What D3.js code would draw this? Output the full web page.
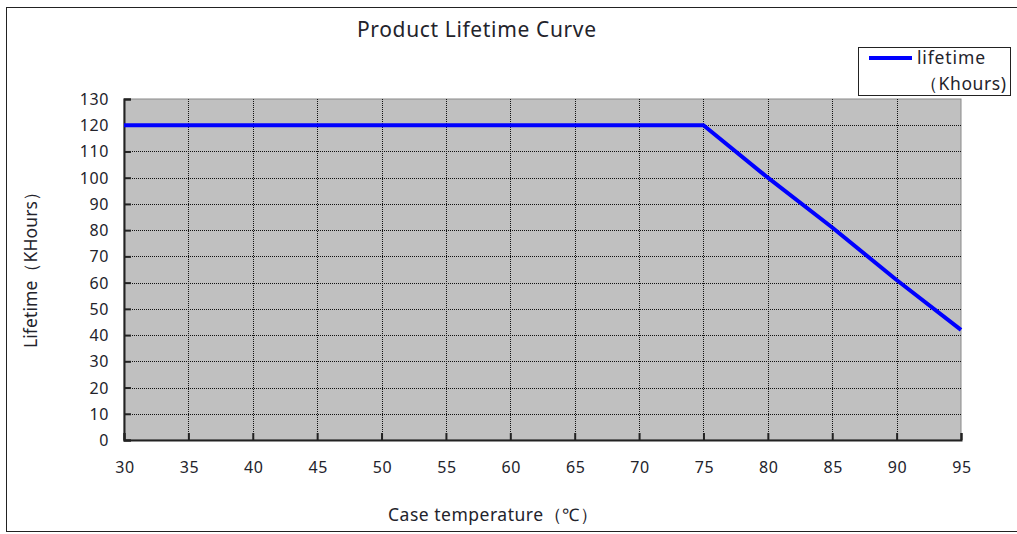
<!DOCTYPE html>
<html>
<head>
<meta charset="utf-8">
<script src="https://cdn.jsdelivr.net/npm/d3@7"></script>
<style>
  body { margin: 0; background: #fff; }
  svg { font-family: "Noto Sans", "Open Sans", sans-serif; }
</style>
</head>
<body>
<script>
// data
const temps = [30, 35, 40, 45, 50, 55, 60, 65, 70, 75, 80, 85, 90, 95];
const lifetime = [120, 120, 120, 120, 120, 120, 120, 120, 120, 120, 100, 81, 61, 42];
const yTicks = [0, 10, 20, 30, 40, 50, 60, 70, 80, 90, 100, 110, 120, 130];

const width = 1017, height = 534;
const margin = { left: 124, right: 55, top: 99, bottom: 94 };
const textColor = '#23232b';

const svg = d3.select('body').append('svg')
  .attr('width', width)
  .attr('height', height);

// outer frame
svg.append('rect')
  .attr('x', 6.5).attr('y', 7.5)
  .attr('width', width - 4).attr('height', 524)
  .attr('fill', 'none').attr('stroke', '#222').attr('stroke-width', 1);

const x = d3.scaleLinear().domain([30, 95]).range([margin.left, width - margin.right - 1]);
const y = d3.scaleLinear().domain([0, 130]).range([height - margin.bottom, margin.top]);

// plot area
svg.append('rect')
  .attr('x', x(30)).attr('y', y(130))
  .attr('width', x(95) - x(30)).attr('height', y(0) - y(130))
  .attr('fill', '#c0c0c0')
  .attr('stroke', '#8a8a8a').attr('stroke-width', 1);

// dotted grid
const grid = svg.append('g').attr('stroke', '#111').attr('stroke-width', 1).attr('stroke-dasharray', '1,1');
grid.selectAll('line.v').data(temps.filter(t => t > 30 && t < 95)).join('line')
  .attr('class', 'v')
  .attr('x1', d => Math.round(x(d)) + 0.5).attr('x2', d => Math.round(x(d)) + 0.5)
  .attr('y1', y(130)).attr('y2', y(0));
grid.selectAll('line.h').data(yTicks.filter(t => t > 0 && t < 130)).join('line')
  .attr('class', 'h')
  .attr('y1', d => Math.round(y(d)) + 0.5).attr('y2', d => Math.round(y(d)) + 0.5)
  .attr('x1', x(30)).attr('x2', x(95));

// axes with inward ticks
const yAxis = svg.append('g')
  .attr('transform', `translate(${x(30)},0)`)
  .call(d3.axisRight(y).tickValues(yTicks).tickSize(7).tickFormat(''));
yAxis.select('.domain').attr('stroke', '#222').attr('stroke-width', 2);
yAxis.selectAll('.tick line').attr('stroke', '#222').attr('stroke-width', 2);

const xAxis = svg.append('g')
  .attr('transform', `translate(0,${y(0)})`)
  .call(d3.axisTop(x).tickValues(temps).tickSize(7).tickFormat(''));
xAxis.select('.domain').attr('stroke', '#222').attr('stroke-width', 2);
xAxis.selectAll('.tick line').attr('stroke', '#222').attr('stroke-width', 2);

// tick labels
svg.append('g').selectAll('text').data(yTicks).join('text')
  .attr('x', 109).attr('y', d => y(d) + 6)
  .attr('text-anchor', 'end')
  .attr('font-size', 16).attr('letter-spacing', 0.6).attr('fill', textColor)
  .text(d => d);
svg.append('g').selectAll('text').data(temps).join('text')
  .attr('x', d => x(d) + 1).attr('y', 473)
  .attr('text-anchor', 'middle')
  .attr('font-size', 16).attr('letter-spacing', 0.6).attr('fill', textColor)
  .text(d => d);

// the curve
const line = d3.line().x((d, i) => x(temps[i])).y(d => y(d));
svg.append('path')
  .datum(lifetime)
  .attr('d', line)
  .attr('fill', 'none')
  .attr('stroke', '#0000ff')
  .attr('stroke-width', 4)
  .attr('stroke-linejoin', 'round');

// titles
svg.append('text').attr('x', 357).attr('y', 37)
  .attr('font-size', 21).attr('fill', textColor)
  .attr('textLength', 239).attr('lengthAdjust', 'spacing')
  .text('Product Lifetime Curve');
svg.append('text').attr('x', 388).attr('y', 521)
  .attr('font-size', 17.5).attr('fill', textColor)
  .attr('textLength', 210).attr('lengthAdjust', 'spacing')
  .text('Case temperature（℃）');
svg.append('text')
  .attr('transform', 'translate(37,348) rotate(-90)')
  .attr('font-size', 17.5).attr('fill', textColor)
  .attr('textLength', 165).attr('lengthAdjust', 'spacing')
  .text('Lifetime（KHours）');

// legend
const lg = svg.append('g');
lg.append('rect').attr('x', 858.5).attr('y', 47.5).attr('width', 152).attr('height', 48)
  .attr('fill', '#fff').attr('stroke', '#222').attr('stroke-width', 1);
lg.append('line').attr('x1', 869).attr('x2', 912).attr('y1', 58).attr('y2', 58)
  .attr('stroke', '#0000ff').attr('stroke-width', 4);
lg.append('text').attr('x', 917).attr('y', 64).attr('font-size', 17.5).attr('fill', textColor)
  .attr('textLength', 68).attr('lengthAdjust', 'spacing').text('lifetime');
lg.append('text').attr('x', 920).attr('y', 90).attr('font-size', 17.5).attr('fill', textColor)
  .attr('textLength', 86).attr('lengthAdjust', 'spacing').text('（Khours)');
</script>
</body>
</html>
